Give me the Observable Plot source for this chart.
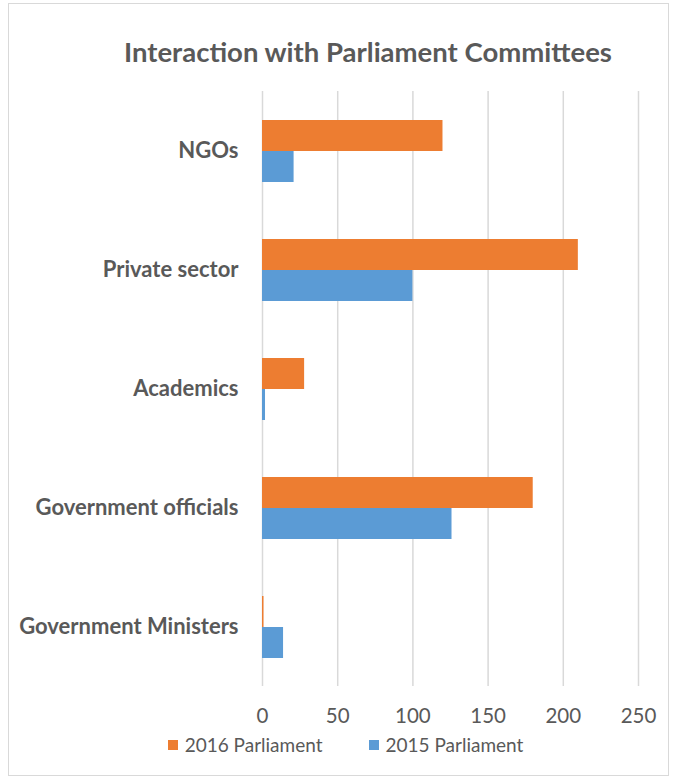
<!DOCTYPE html>
<html><head><meta charset="utf-8">
<script src="https://cdn.jsdelivr.net/npm/d3@7"></script>
<script src="https://cdn.jsdelivr.net/npm/@observablehq/plot@0.6"></script>
<style>
body{margin:0;background:#fff;font-family:Lato,sans-serif;overflow:hidden}
#wrap{position:relative;width:675px;height:778px}
#frame{position:absolute;left:8px;top:3px;width:661px;height:773px;border:1px solid #d9d9d9;box-sizing:border-box;pointer-events:none}
#title{box-sizing:border-box;width:675px;height:80px;padding:35px 0 0 61px;text-align:center;font-weight:bold;font-size:27.5px;line-height:34px;color:#595959;white-space:nowrap}
#chart svg{display:block}
#legend{box-sizing:border-box;width:675px;height:47px;padding-left:16px;display:flex;justify-content:center;align-items:flex-start;line-height:28px;font-size:19px;color:#595959}
.item{display:flex;align-items:center}
.sw{width:10px;height:10px;margin-right:7px}
.gap{width:46px}
</style>
</head><body>
<div id="wrap">
<div id="frame"></div>
<div id="title"></div>
<div id="chart"></div>
<div id="legend"></div>
</div>
<script>
const titleText = "Interaction with Parliament Committees";
const categories = ["NGOs", "Private sector", "Academics", "Government officials", "Government Ministers"];
const series = ["2016 Parliament", "2015 Parliament"];
const values2016 = [120, 210, 28, 180, 1];
const values2015 = [21, 100, 2, 126, 14];
const xTicks = [0, 50, 100, 150, 200, 250];
const colors = ["#ED7D31", "#5B9BD5"];

document.getElementById("title").textContent = titleText;

const rows = categories.flatMap((c, i) => [
  {category: c, series: series[0], value: values2016[i]},
  {category: c, series: series[1], value: values2015[i]}
]);

const chart = Plot.plot({
  width: 675,
  height: 651,
  marginTop: 10,
  marginBottom: 44,
  marginLeft: 262,
  marginRight: 37,
  style: {fontFamily: "Lato, sans-serif", fontSize: "20.5px", color: "#595959", background: "transparent", overflow: "visible"},
  x: {domain: [0, 250], ticks: xTicks, tickSize: 0, tickPadding: 22, label: null},
  y: {domain: series, paddingInner: 0, paddingOuter: 0.91, axis: null},
  fy: {domain: categories, padding: 0, axis: null},
  color: {domain: series, range: colors},
  marks: [
    Plot.ruleX(xTicks, {stroke: "#d9d9d9", strokeWidth: 1.5, strokeOpacity: 1}),
    Plot.barX(rows, {fy: "category", y: "series", x: "value", fill: "series"}),
    Plot.text(categories, {fy: d => d, text: d => d, frameAnchor: "left", dx: -24, textAnchor: "end", fontWeight: "bold", fontSize: 22, fill: "#595959"})
  ]
});
document.getElementById("chart").appendChild(chart);

const legend = document.getElementById("legend");
series.forEach((s, i) => {
  if (i > 0) { const g = document.createElement("div"); g.className = "gap"; legend.appendChild(g); }
  const item = document.createElement("div"); item.className = "item";
  const sw = document.createElement("div"); sw.className = "sw"; sw.style.background = colors[i];
  const t = document.createElement("span"); t.textContent = s;
  item.appendChild(sw); item.appendChild(t); legend.appendChild(item);
});
</script>
</body></html>
